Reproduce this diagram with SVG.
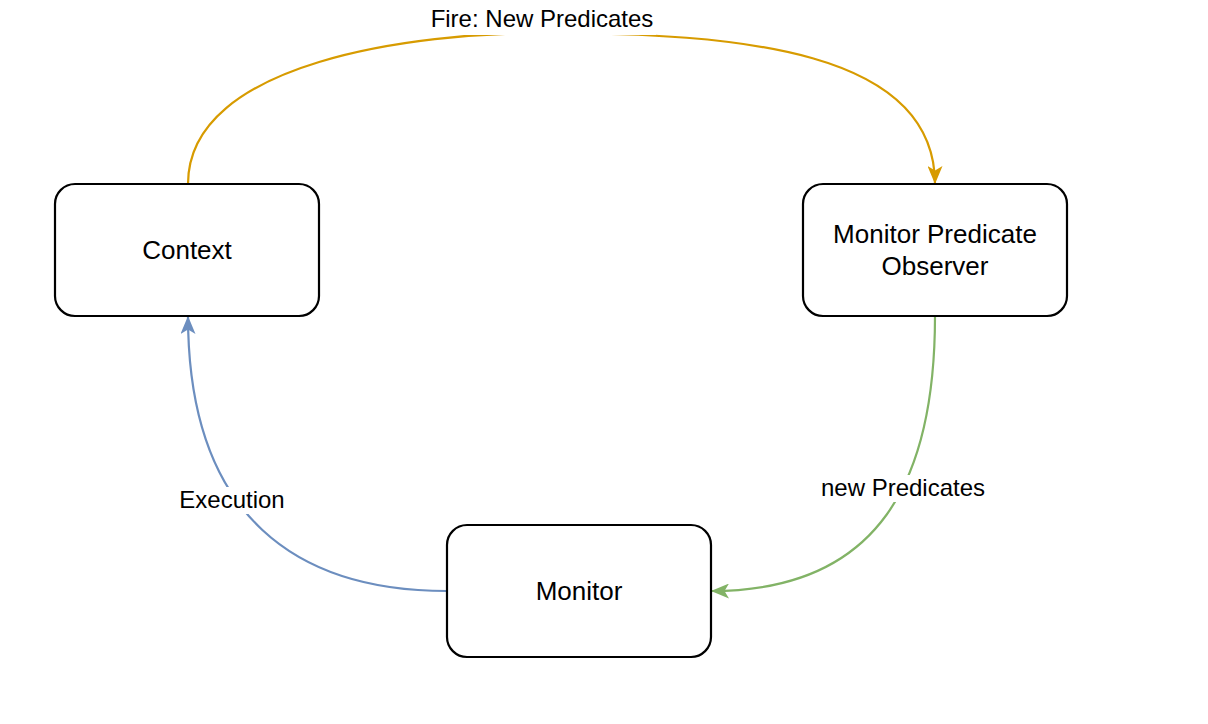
<svg xmlns="http://www.w3.org/2000/svg" width="1208" height="724" viewBox="0 0 1208 724">
<style>
.node rect{fill:#fff;stroke:#000;stroke-width:2.2}
.node text{font-family:"Liberation Sans",Arial,sans-serif;font-size:26px;fill:#000;text-anchor:middle}
.edge{fill:none;stroke-width:2.2}
.lbl{font-family:"Liberation Sans",Arial,sans-serif;font-size:24px;fill:#000;text-anchor:middle}
.lblbg{fill:#fff}
</style>
<defs>
<marker id="aO" markerUnits="userSpaceOnUse" viewBox="0 0 18 15" refX="18" refY="7.5" markerWidth="18" markerHeight="15" orient="auto"><path d="M0,0 L18,7.5 L0,15 L4.5,7.5 Z" fill="#d79b00"/></marker>
<marker id="aG" markerUnits="userSpaceOnUse" viewBox="0 0 18 15" refX="18" refY="7.5" markerWidth="18" markerHeight="15" orient="auto"><path d="M0,0 L18,7.5 L0,15 L4.5,7.5 Z" fill="#82b366"/></marker>
<marker id="aB" markerUnits="userSpaceOnUse" viewBox="0 0 18 15" refX="18" refY="7.5" markerWidth="18" markerHeight="15" orient="auto"><path d="M0,0 L18,7.5 L0,15 L4.5,7.5 Z" fill="#6c8ebf"/></marker>
</defs>
<rect width="1208" height="724" fill="#fff"/>
<g id="connectors">
<path class="edge" stroke="#d79b00" d="M188,184 C188,60 420,33 541,33 C740,33 935,50 935,184" marker-end="url(#aO)"/>
<path class="edge" stroke="#82b366" d="M935,316 C935,480 880,591 711,591" marker-end="url(#aG)"/>
<path class="edge" stroke="#6c8ebf" d="M447,591 C300,591 188,520 188,316" marker-end="url(#aB)"/>
<rect class="lblbg" x="428" y="4" width="228" height="31"/>
<text class="lbl" x="542" y="27">Fire: New Predicates</text>
<rect class="lblbg" x="818" y="475" width="170" height="27"/>
<text class="lbl" x="903" y="496">new Predicates</text>
<rect class="lblbg" x="177" y="487" width="110" height="27"/>
<text class="lbl" x="232" y="508">Execution</text>
</g>
<g id="context" class="node"><rect x="55" y="184" width="264" height="132" rx="20"/><text x="187" y="259">Context</text></g>
<g id="observer" class="node"><rect x="803" y="184" width="264" height="132" rx="20"/><text x="935" y="243">Monitor Predicate</text><text x="935" y="275">Observer</text></g>
<g id="monitor" class="node"><rect x="447" y="525" width="264" height="132" rx="20"/><text x="579" y="600">Monitor</text></g>
</svg>
